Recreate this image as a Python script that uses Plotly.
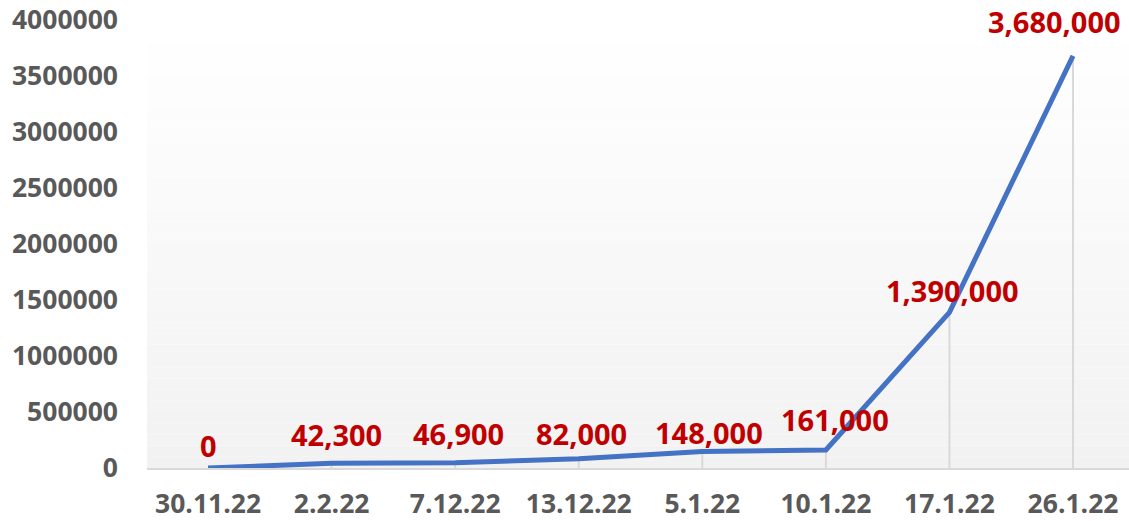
import plotly.graph_objects as go

dates = ["30.11.22", "2.2.22", "7.12.22", "13.12.22", "5.1.22", "10.1.22", "17.1.22", "26.1.22"]
values = [0, 42300, 46900, 82000, 148000, 161000, 1390000, 3680000]
y_ticks = [0, 500000, 1000000, 1500000, 2000000, 2500000, 3000000, 3500000, 4000000]

# label offsets (pixels) relative to each point, as placed in the reference
label_dx = [0, 5, 3, 3, 7, 9, 3, -19]
label_dy = [23, 29, 29, 25, 19, 30, 22, 34]

FONT = "Open Sans"
fig = go.Figure()

# drop lines from each point down to the axis
dx, dy = [], []
for d, v in zip(dates, values):
    dx += [d, d, None]
    dy += [0, v, None]
fig.add_trace(go.Scatter(x=dx, y=dy, mode="lines",
                         line=dict(color="#d9d9d9", width=2),
                         hoverinfo="skip", showlegend=False))

fig.add_trace(go.Scatter(
    x=dates, y=values, mode="lines",
    line=dict(color="#4472c4", width=5),
    cliponaxis=False, showlegend=False,
))

annotations = []
for d, v, ox, oy in zip(dates, values, label_dx, label_dy):
    annotations.append(dict(
        x=d, y=v, xref="x", yref="y", text=f"{v:,}", showarrow=False,
        xanchor="center", yanchor="middle", xshift=ox, yshift=oy,
        font=dict(family=FONT, size=29, color="#c00000", weight="bold"),
    ))

# vertical gradient background (white at top -> light gray at bottom)
n = 40
shapes = []
for i in range(n):
    t = (i + 0.5) / n
    c = round(255 - (255 - 242) * (1 - t))
    shapes.append(dict(type="rect", xref="paper", yref="paper",
                       x0=0, x1=1, y0=i / n, y1=(i + 1) / n,
                       fillcolor=f"rgb({c},{c},{c})", line=dict(width=0),
                       layer="below"))

fig.update_layout(
    width=1129, height=521,
    margin=dict(l=147, r=0, t=20, b=53),
    paper_bgcolor="white", plot_bgcolor="rgba(0,0,0,0)",
    shapes=shapes, annotations=annotations,
    xaxis=dict(type="category", range=[-0.494, 7.453], showgrid=False,
               showline=True, linecolor="#d9d9d9", linewidth=2,
               ticks="", ticklabelstandoff=11, automargin=False,
               tickfont=dict(family=FONT, size=26.5, color="#595959", weight="bold"),
               fixedrange=True),
    yaxis=dict(range=[0, 4000000], tickvals=y_ticks,
               ticktext=[str(v) for v in y_ticks],
               showgrid=False, zeroline=False, showline=False,
               ticks="", ticklabelstandoff=28, automargin=False,
               tickfont=dict(family=FONT, size=26.5, color="#595959", weight="bold"),
               fixedrange=True),
)

fig.write_html("out.html", config={"displayModeBar": False},
               post_script="document.body.style.margin='0';document.body.style.overflow='hidden';")
